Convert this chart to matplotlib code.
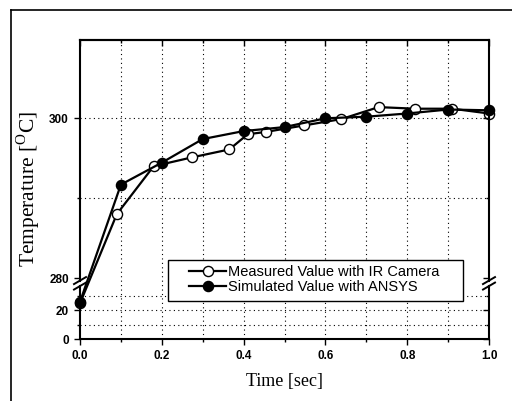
import numpy as np
import matplotlib
matplotlib.use("Agg")
import matplotlib.pyplot as plt
from matplotlib.lines import Line2D
from matplotlib.patches import Rectangle

# ---- data ----
meas_t = [0.0, 0.09, 0.18, 0.273, 0.365, 0.41, 0.455, 0.547, 0.639, 0.73, 0.82, 0.91, 1.0]
meas_T = [25.0, 288.0, 294.0, 295.1, 296.1, 298.0, 298.3, 299.1, 299.9, 301.4, 301.2, 301.2, 300.6]
sim_t = [0.0, 0.1, 0.2, 0.3, 0.4, 0.5, 0.6, 0.7, 0.8, 0.9, 1.0]
sim_T = [26.0, 291.7, 294.45, 297.4, 298.4, 298.9, 300.0, 300.2, 300.6, 301.1, 301.0]
x_ticks = [0.0, 0.2, 0.4, 0.6, 0.8, 1.0]
x_tick_labels = ["0.0", "0.2", "0.4", "0.6", "0.8", "1.0"]
y_ticks = [0, 20, 280, 300]
y_tick_labels = ["0", "20", "280", "300"]
y_minor = [10, 30, 290]
y_grid = [10, 20, 30, 290, 300]
labels = ["Measured Value with IR Camera", "Simulated Value with ANSYS"]

# ---- broken-axis scale (piecewise linear) ----
VX = np.array([0.0, 36.0, 280.0, 310.0])
HX = np.array([0.0, 51.5, 61.0, 301.0])

def fwd(v):
    v = np.asarray(v, dtype=float)
    out = np.interp(v, VX, HX)
    s0 = (HX[1] - HX[0]) / (VX[1] - VX[0])
    s1 = (HX[-1] - HX[-2]) / (VX[-1] - VX[-2])
    out = np.where(v < VX[0], HX[0] + (v - VX[0]) * s0, out)
    out = np.where(v > VX[-1], HX[-1] + (v - VX[-1]) * s1, out)
    return out

def inv(h):
    h = np.asarray(h, dtype=float)
    out = np.interp(h, HX, VX)
    s0 = (VX[1] - VX[0]) / (HX[1] - HX[0])
    s1 = (VX[-1] - VX[-2]) / (HX[-1] - HX[-2])
    out = np.where(h < HX[0], VX[0] + (h - HX[0]) * s0, out)
    out = np.where(h > HX[-1], VX[-1] + (h - HX[-1]) * s1, out)
    return out

plt.rcParams['mathtext.fontset'] = 'custom'
plt.rcParams['mathtext.rm'] = 'Liberation Serif'

W, H = 512, 401
fig = plt.figure(figsize=(W / 100, H / 100), dpi=100)
L, R, T, B = 80, 489, 40, 339
ax = fig.add_axes([L / W, (H - B) / H, (R - L) / W, (B - T) / H])

ax.set_yscale('function', functions=(fwd, inv))
YMIN, YMAX = 0.0, 309.8
ax.set_xlim(0, 1.0)
ax.set_ylim(YMIN, YMAX)

# grid
for gx in np.arange(0.1, 1.0, 0.1):
    ax.axvline(gx, color='black', lw=0.8, ls=(0, (1, 3)), zorder=1)
for gy in y_grid:
    ax.axhline(gy, color='black', lw=0.8, ls=(0, (1, 3)), zorder=1)

ax.plot(meas_t, meas_T, '-o', color='black', mfc='white', mec='black',
        ms=7.3, lw=1.6, mew=1.0, label=labels[0], zorder=3, clip_on=False)
ax.plot(sim_t, sim_T, '-o', color='black', mfc='black', mec='black',
        ms=7.3, lw=1.6, mew=1.0, label=labels[1], zorder=4, clip_on=False)

ax.set_xticks(x_ticks)
ax.set_xticklabels(x_tick_labels, fontfamily='Liberation Sans', fontweight='bold', fontsize=8.5)
ax.set_xticks(np.arange(0.1, 1.0, 0.2), minor=True)
ax.set_yticks(y_ticks)
ax.set_yticklabels(y_tick_labels, fontfamily='Liberation Sans', fontweight='bold', fontsize=8.5)
ax.set_yticks(y_minor, minor=True)
ax.tick_params(which='major', direction='out', length=4, width=1, top=False, right=False, pad=4)
ax.tick_params(which='minor', direction='out', length=2.5, width=1, top=False, right=False)

# top/right inward ticks
sec = ax.secondary_xaxis('top')
sec.set_xticks(x_ticks)
sec.set_xticks(np.arange(0.1, 1.0, 0.2), minor=True)
sec.tick_params(which='major', direction='in', length=4, width=1, labeltop=False)
sec.tick_params(which='minor', direction='in', length=2.5, width=1)
sec.spines['top'].set_linewidth(1.5)

ax2 = ax.twinx()
ax2.set_yscale('function', functions=(fwd, inv))
ax2.set_ylim(YMIN, YMAX)
ax2.set_yticks(y_ticks)
ax2.set_yticks(y_minor, minor=True)
ax2.tick_params(which='major', direction='in', length=4, width=1, labelright=False)
ax2.tick_params(which='minor', direction='in', length=2.5, width=1)
for s in ax2.spines.values():
    s.set_visible(False)

# spines with break
for s in ['top', 'bottom']:
    ax.spines[s].set_linewidth(1.5)
ax.spines['left'].set_visible(False)
ax.spines['right'].set_visible(False)
Htot = fwd(YMAX)
def hfrac(h):
    return h / Htot
g0, g1 = hfrac(53.5), hfrac(58.0)
for xx in (0, 1):
    ax.add_line(Line2D([xx, xx], [0, g0], transform=ax.transAxes, color='black', lw=1.5, clip_on=False, zorder=5))
    ax.add_line(Line2D([xx, xx], [g1, 1], transform=ax.transAxes, color='black', lw=1.5, clip_on=False, zorder=5))
    dx = 6 / (R - L)
    dy = 3.5 / (B - T)
    for hc in (53.0, 58.5):
        yc = hfrac(hc)
        ax.add_line(Line2D([xx - dx, xx + dx], [yc - dy, yc + dy], transform=ax.transAxes,
                           color='black', lw=1.4, clip_on=False, zorder=6))

ax.set_xlabel('Time [sec]', fontfamily='Liberation Serif', fontsize=13, labelpad=8)
ax.set_ylabel(r'Temperature [$^{\mathrm{O}}$C]', fontfamily='Liberation Serif', fontsize=15.5, labelpad=5)

# legend box (drawn separately to match the wide frame)
bx0, bx1, by0, by1 = 168, 463, 260, 301
box = Rectangle(((bx0 - L) / (R - L), (B - by1) / (B - T)), (bx1 - bx0) / (R - L), (by1 - by0) / (B - T),
                transform=ax.transAxes, facecolor='white', edgecolor='black', lw=1.0, zorder=9)
ax.add_patch(box)
leg = ax.legend(loc='lower left', bbox_to_anchor=((bx0 + 14 - L) / (R - L), (B - by1) / (B - T)),
                borderaxespad=0, frameon=False,
                prop={'family': 'Liberation Sans', 'size': 10.5}, handlelength=2.6,
                handletextpad=0.1, labelspacing=0.1, borderpad=0.45)
leg.set_zorder(10)

# outer frame lines
fig.add_artist(Line2D([11 / W, 1.0], [1 - 10 / H, 1 - 10 / H], transform=fig.transFigure, color='black', lw=1.2))
fig.add_artist(Line2D([11 / W, 11 / W], [0, 1 - 10 / H], transform=fig.transFigure, color='black', lw=1.2))

fig.savefig('out.png', dpi=100)
